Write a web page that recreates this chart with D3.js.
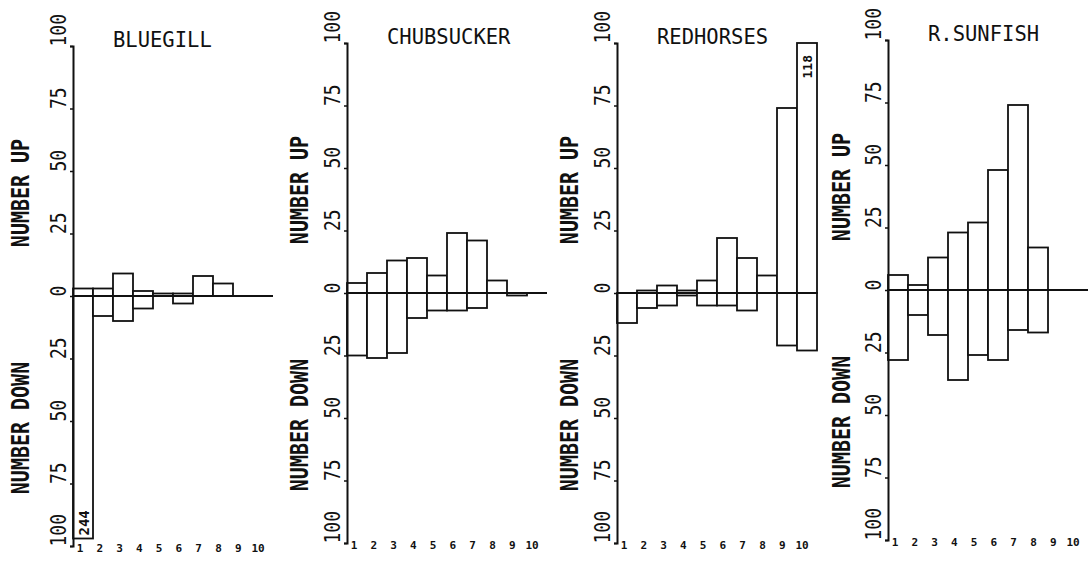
<!DOCTYPE html>
<html><head><meta charset="utf-8">
<script src="https://cdn.jsdelivr.net/npm/d3@7"></script>
<style>body{margin:0;background:#fff} svg{display:block}</style>
</head><body>
<svg id="chart" width="1090" height="562"></svg>
<script>
// ---- data ----
const species = ["BLUEGILL", "CHUBSUCKER", "REDHORSES", "R.SUNFISH"];
const classes = [1, 2, 3, 4, 5, 6, 7, 8, 9, 10];
const yTickValues = [-100, -75, -50, -25, 0, 25, 50, 75, 100];
const bluegillUp     = [3, 3, 9, 2, 1, 1, 8, 5, 0, 0];
const bluegillDown   = [244, 8, 10, 5, 0, 3, 0, 0, 0, 0];
const chubsuckerUp   = [4, 8, 13, 14, 7, 24, 21, 5, 0, 0];
const chubsuckerDown = [25, 26, 24, 10, 7, 7, 6, 0, 1, 0];
const redhorsesUp    = [0, 1, 3, 1, 5, 22, 14, 7, 74, 118];
const redhorsesDown  = [12, 6, 5, 1, 5, 5, 7, 0, 21, 23];
const sunfishUp      = [6, 2, 13, 23, 27, 48, 74, 17, 0, 0];
const sunfishDown    = [28, 10, 18, 36, 26, 28, 16, 17, 0, 0];
const upSeries = [bluegillUp, chubsuckerUp, redhorsesUp, sunfishUp];
const downSeries = [bluegillDown, chubsuckerDown, redhorsesDown, sunfishDown];

// ---- layout ----
const axisX = [73, 347, 617, 888];
const zeroY = [296, 293, 293, 290];
const labelDx = [-44, -39, -39, -38];
const half = 250, panelW = 200;
const clipUp = 100, clipDown = 97;
const ink = "#111";
const mono = "'DejaVu Sans Mono', 'Liberation Mono', monospace";

const svg = d3.select("#chart");

species.forEach((name, i) => {
  const ax = axisX[i], zy = zeroY[i];
  const x = d3.scaleBand().domain(classes).range([ax, ax + panelW]).padding(0);
  const xl = d3.scalePoint().domain(classes).range([ax + 7, ax + 185]);
  const y = d3.scaleLinear().domain([-100, 100]).range([zy + half, zy - half]);
  const g = svg.append("g");

  const ups = upSeries[i], downs = downSeries[i];
  const bars = classes.map((c, k) => ({c, up: ups[k], down: downs[k]}));

  // up bars
  g.selectAll("rect.up").data(bars.filter(d => d.up > 0)).join("rect")
    .attr("x", d => x(d.c)).attr("width", x.bandwidth())
    .attr("y", d => y(Math.min(d.up, clipUp)))
    .attr("height", d => y(0) - y(Math.min(d.up, clipUp)))
    .attr("fill", "#fff").attr("stroke", ink).attr("stroke-width", 1.8);
  // down bars
  g.selectAll("rect.down").data(bars.filter(d => d.down > 0)).join("rect")
    .attr("x", d => x(d.c)).attr("width", x.bandwidth())
    .attr("y", y(0))
    .attr("height", d => y(-Math.min(d.down, clipDown)) - y(0))
    .attr("fill", "#fff").attr("stroke", ink).attr("stroke-width", 1.8);

  // off-scale labels
  g.selectAll("text.offup").data(bars.filter(d => d.up > clipUp)).join("text")
    .attr("transform", d => `translate(${x(d.c) + x.bandwidth() / 2 + 5},${y(clipUp) + 12}) rotate(-90)`)
    .attr("text-anchor", "end").attr("font-family", mono).attr("font-weight", "bold")
    .attr("font-size", 13).attr("fill", ink).text(d => d.up);
  g.selectAll("text.offdown").data(bars.filter(d => d.down > clipDown)).join("text")
    .attr("transform", d => `translate(${x(d.c) + x.bandwidth() / 2 + 6},${y(-clipDown) - 3}) rotate(-90)`)
    .attr("text-anchor", "start").attr("font-family", mono).attr("font-weight", "bold")
    .attr("font-size", 14).attr("fill", ink).text(d => d.down);

  // zero line
  g.append("line").attr("x1", ax).attr("x2", ax + panelW)
    .attr("y1", y(0)).attr("y2", y(0))
    .attr("stroke", ink).attr("stroke-width", 2.2);

  // y axis
  const yAxis = d3.axisLeft(y).tickValues(yTickValues).tickSize(3).tickSizeOuter(3)
    .tickFormat(d => Math.abs(d));
  const ag = g.append("g").attr("transform", `translate(${ax},0)`).call(yAxis);
  ag.select(".domain").attr("stroke", ink).attr("stroke-width", 2);
  ag.selectAll(".tick line").attr("stroke", ink).attr("stroke-width", 1.5);
  ag.selectAll(".tick text")
    .attr("x", null).attr("dy", null)
    .attr("transform", "translate(-7,0) rotate(-90) scale(1,1.15)")
    .attr("text-anchor", "start")
    .attr("font-family", mono).attr("font-size", 18).attr("fill", ink);

  // x labels
  g.selectAll("text.xl").data(classes).join("text")
    .attr("x", d => xl(d)).attr("y", zy + half + 6)
    .attr("text-anchor", "middle").attr("font-family", mono).attr("font-weight", "bold")
    .attr("font-size", 11).attr("fill", ink).text(d => d);

  // title
  g.append("text").attr("x", ax + 40).attr("y", zy - half + 1)
    .attr("font-family", mono).attr("font-size", 20.5).attr("fill", ink).text(name);

  // axis titles
  g.append("text")
    .attr("transform", `translate(${ax + labelDx[i]},${zy - 103}) rotate(-90) scale(1,1.2)`)
    .attr("text-anchor", "middle").attr("font-family", mono).attr("font-weight", "bold")
    .attr("font-size", 20).attr("fill", ink).text("NUMBER UP");
  g.append("text")
    .attr("transform", `translate(${ax + labelDx[i]},${zy + 132}) rotate(-90) scale(1,1.2)`)
    .attr("text-anchor", "middle").attr("font-family", mono).attr("font-weight", "bold")
    .attr("font-size", 20).attr("fill", ink).text("NUMBER DOWN");
});
</script>
</body></html>
